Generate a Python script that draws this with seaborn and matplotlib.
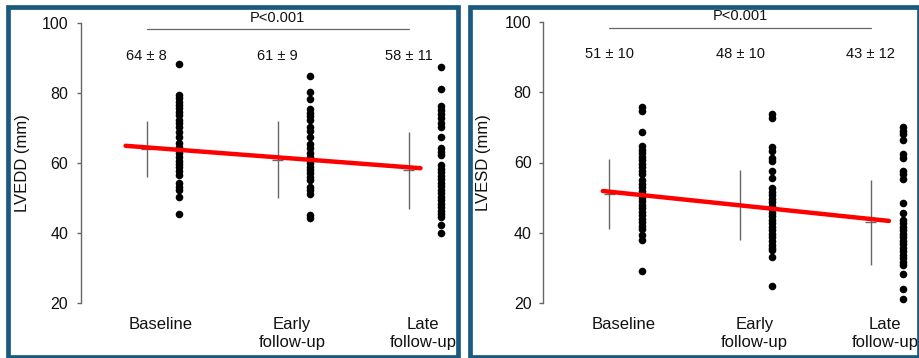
import numpy as np
import pandas as pd
import matplotlib
matplotlib.use("Agg")
import matplotlib.pyplot as plt
import seaborn as sns
from matplotlib.patches import Rectangle

sns.set_theme(style="ticks")
plt.rcParams["font.family"] = ["Liberation Sans", "DejaVu Sans"]

# ---------------- data ----------------
categories = ["Baseline", "Early\nfollow-up", "Late\nfollow-up"]

lvedd_baseline = [88.4, 79.5, 78.6, 77.6, 76.7, 75.7, 74.7, 73.8, 72.4, 71.4, 70.3, 69.0,
                  67.4, 65.7, 64.6, 63.8, 62.9, 61.9, 60.8, 59.8, 58.9, 57.9, 56.7, 54.3,
                  53.3, 52.4, 50.3, 45.4]
lvedd_early = [84.9, 80.5, 78.3, 75.4, 74.5, 73.5, 72.4, 70.3, 69.3, 67.6, 65.5, 64.3,
               62.9, 61.9, 60.9, 60.0, 59.0, 58.1, 57.1, 56.2, 55.2, 53.3, 52.4, 51.2,
               45.2, 44.3]
lvedd_late = [87.4, 81.1, 76.4, 75.2, 74.1, 72.9, 71.6, 70.3, 67.4, 64.3, 63.3, 62.4,
              59.5, 58.5, 57.5, 56.5, 55.5, 54.5, 53.5, 52.5, 51.5, 50.5, 49.5, 48.5,
              47.5, 46.5, 45.5, 44.7, 42.4, 40.2]
lvedd_mean = [64, 61, 58]
lvedd_low = [56, 50, 47]
lvedd_high = [72, 72, 69]
lvedd_text = ["64 ± 8", "61 ± 9", "58 ± 11"]
lvedd_trend_x = [-0.16, 2.09]
lvedd_trend_y = [65.0, 58.6]

lvesd_baseline = [75.7, 74.7, 68.6, 64.6, 63.6, 62.6, 61.6, 60.6, 59.6, 58.6, 57.6, 56.7,
                  55.0, 54.0, 53.0, 52.0, 51.0, 50.0, 49.0, 48.0, 47.0, 46.0, 45.0, 44.0,
                  43.0, 42.0, 41.0, 39.5, 38.1, 29.2]
lvesd_early = [73.8, 72.6, 64.3, 63.3, 61.4, 60.5, 57.6, 55.7, 52.7, 51.7, 50.7, 49.7,
               48.7, 47.7, 46.7, 45.7, 44.7, 43.7, 42.7, 41.7, 40.7, 39.7, 38.7, 37.7,
               36.7, 35.7, 35.1, 33.2, 25.0]
lvesd_late = [70.0, 69.0, 68.1, 66.5, 62.4, 61.4, 57.6, 56.7, 55.4, 48.4, 45.7, 43.8,
              42.8, 41.8, 40.8, 39.8, 38.8, 37.8, 36.8, 35.8, 34.8, 33.8, 32.8, 31.8,
              30.9, 28.4, 24.2, 21.1]
lvesd_mean = [51, 48, 43]
lvesd_low = [41, 38, 31]
lvesd_high = [61, 58, 55]
lvesd_text = ["51 ± 10", "48 ± 10", "43 ± 12"]
lvesd_trend_x = [-0.05, 2.14]
lvesd_trend_y = [51.9, 43.4]

p_text = "P<0.001"
yticks = [20, 40, 60, 80, 100]

# ---------------- layout ----------------
W, H = 920, 358
fig = plt.figure(figsize=(W / 100, H / 100), dpi=100)

def rect_px(x0, y_top, x1, y_bot):
    return [x0 / W, (H - y_bot) / H, (x1 - x0) / W, (y_bot - y_top) / H]

BORDER = "#1b5a7e"
for (x0, x1) in [(8, 458.5), (470.5, 918.5)]:
    fig.patches.append(Rectangle((x0 / W, 1.5 / H), (x1 - x0) / W, (350.8 - 1.5) / H,
                                 transform=fig.transFigure, fill=False,
                                 edgecolor=BORDER, linewidth=3.4, zorder=0))

DOT_OFF = 0.247
LABEL_OFF = 0.11
TEXT_COLOR = "#111111"
GRAY = "#666666"


def draw_panel(ax, groups, mean, low, high, texts, tx, ty, ylabel, xlim, ylabel_x_px,
               ax_w_px, tick_pad):
    rows = []
    for i, vals in enumerate(groups):
        for v in vals:
            rows.append({"pos": i + DOT_OFF, "value": v})
    df = pd.DataFrame(rows)
    sns.scatterplot(data=df, x="pos", y="value", color="black", s=30,
                    linewidth=0, ax=ax, legend=False, zorder=3)
    pos = np.arange(len(mean))
    ax.vlines(pos, low, high, color=GRAY, linewidth=1.0, zorder=2)
    ax.hlines(mean, pos - 0.04, pos + 0.04, color=GRAY, linewidth=1.0, zorder=2)
    sns.lineplot(x=tx, y=ty, color="#ff0000", linewidth=3.2, ax=ax, zorder=4)
    for i, t in enumerate(texts):
        ax.text(i, 90.7, t, ha="center", va="center", fontsize=10.5, color=TEXT_COLOR)
    ax.plot([0, 2], [98.3, 98.3], color=GRAY, linewidth=0.9)
    ax.text(1, 101.6, p_text, ha="center", va="center", fontsize=10.5, color=TEXT_COLOR,
            clip_on=False)

    ax.set_xlim(*xlim)
    ax.set_ylim(20, 100)
    ax.set_yticks(yticks)
    ax.set_xticks(pos + LABEL_OFF)
    ax.set_xticklabels(categories)
    ax.set_xlabel("")
    ax.set_ylabel(ylabel, fontsize=12, color=TEXT_COLOR)
    ax.yaxis.label.set_verticalalignment("center")
    ax.yaxis.set_label_coords((ylabel_x_px) / ax_w_px, 0.5)
    for s in ["top", "right", "bottom"]:
        ax.spines[s].set_visible(False)
    ax.spines["left"].set_color(GRAY)
    ax.spines["left"].set_linewidth(1.0)
    ax.tick_params(axis="y", length=3.2, width=1.0, color=GRAY, pad=tick_pad,
                   labelsize=11.5, labelcolor=TEXT_COLOR, left=True)
    ax.tick_params(axis="x", length=0, pad=10, labelsize=12, labelcolor=TEXT_COLOR,
                   bottom=False)
    ax.patch.set_alpha(0)


# left panel
lx0, lx1 = 81, 146.7 + 131 * 2.35
ax1 = fig.add_axes(rect_px(lx0, 23.3, lx1, 303.3))
draw_panel(ax1, [lvedd_baseline, lvedd_early, lvedd_late], lvedd_mean, lvedd_low,
           lvedd_high, lvedd_text, lvedd_trend_x, lvedd_trend_y, "LVEDD (mm)",
           (-0.5, 2.35), 22.5 - lx0, lx1 - lx0, 6.0)

# right panel
rx0, rx1 = 542.7, 609.3 + 130.7 * 2.36
ax2 = fig.add_axes(rect_px(rx0, 21.7, rx1, 303.3))
draw_panel(ax2, [lvesd_baseline, lvesd_early, lvesd_late], lvesd_mean, lvesd_low,
           lvesd_high, lvesd_text, lvesd_trend_x, lvesd_trend_y, "LVESD (mm)",
           (-0.51, 2.36), 483.5 - rx0, rx1 - rx0, 4.8)

fig.savefig("out.png", dpi=100)
